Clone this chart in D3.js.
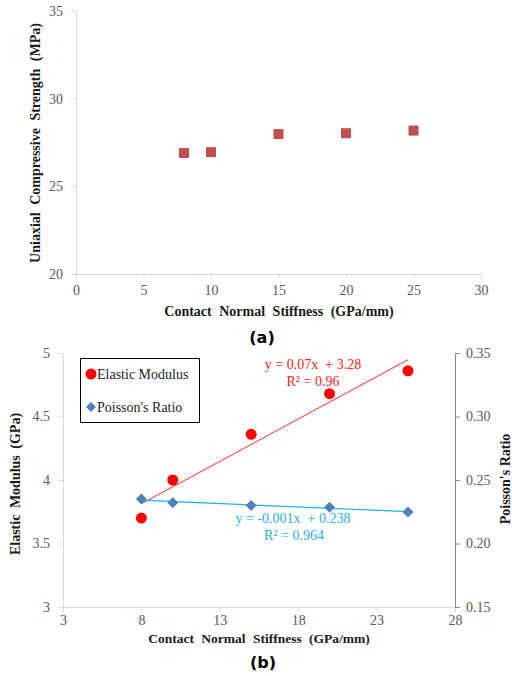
<!DOCTYPE html>
<html>
<head>
<meta charset="utf-8">
<script src="https://cdn.jsdelivr.net/npm/d3@7"></script>
<style>
  body { margin: 0; background: #fff; }
  svg { display: block; }
</style>
</head>
<body>
<svg id="chart" width="512" height="676"></svg>
<script>
// chart (a) data
var stiffA = [8, 10, 15, 20, 25];
var ucs = [26.9, 26.95, 27.98, 28.03, 28.18];
var xTicksA = [0, 5, 10, 15, 20, 25, 30];
var yTicksA = [20, 25, 30, 35];

// chart (b) data
var stiffB = [8, 10, 15, 20, 25];
var modulus = [3.70, 4.00, 4.36, 4.68, 4.86];
var poisson = [0.235, 0.232, 0.230, 0.2285, 0.2248];
var xTicksB = [3, 8, 13, 18, 23, 28];
var yTicksB = [3, 3.5, 4, 4.5, 5];
var yTicksR = [0.15, 0.20, 0.25, 0.30, 0.35];

var serif = "'Liberation Serif', 'Times New Roman', serif";
var tickCol = "#595959";
var svg = d3.select("#chart");

function linfit(xs, ys) {
  var mx = d3.mean(xs), my = d3.mean(ys);
  var sxy = d3.sum(xs, function(x, i){ return (x - mx) * (ys[i] - my); });
  var sxx = d3.sum(xs, function(x){ return (x - mx) * (x - mx); });
  var b = sxy / sxx;
  return {b: b, a: my - b * mx};
}

function styleAxis(g, col) {
  g.attr("font-family", null);
  g.select(".domain").attr("stroke", col);
  g.selectAll(".tick line").attr("stroke", col);
  g.selectAll(".tick text")
    .attr("fill", tickCol)
    .style("font-family", serif)
    .style("font-size", "14px");
}

// ---------- (a) ----------
var xA = d3.scaleLinear().domain([0, 30]).range([76, 481]);
var yA = d3.scaleLinear().domain([20, 35]).range([274, 11]);

var gxA = svg.append("g")
  .attr("transform", "translate(0," + yA(20) + ")")
  .call(d3.axisBottom(xA).tickValues(xTicksA).tickSize(5).tickSizeOuter(0).tickPadding(6));
styleAxis(gxA, "#d9d9d9");

var gyA = svg.append("g")
  .attr("transform", "translate(" + xA(0) + ",0)")
  .call(d3.axisLeft(yA).tickValues(yTicksA).tickSize(5).tickSizeOuter(0).tickPadding(8));
styleAxis(gyA, "#d9d9d9");

svg.append("g").selectAll("rect").data(stiffA)
  .enter().append("rect")
  .attr("x", function(d){ return xA(d) - 5; })
  .attr("y", function(d, i){ return yA(ucs[i]) - 5; })
  .attr("width", 10)
  .attr("height", 10)
  .attr("fill", "#c0504d");

svg.append("text")
  .attr("x", 279).attr("y", 316)
  .attr("text-anchor", "middle")
  .style("font-family", serif).style("font-size", "14px").style("font-weight", "bold")
  .attr("fill", "#1a1a1a")
  .attr("word-spacing", "4px")
  .text("Contact Normal Stiffness (GPa/mm)");

svg.append("text")
  .attr("transform", "translate(40,143) rotate(-90)")
  .attr("text-anchor", "middle")
  .style("font-family", serif).style("font-size", "14px").style("font-weight", "bold")
  .attr("fill", "#1a1a1a")
  .attr("word-spacing", "4px")
  .text("Uniaxial Compressive Strength (MPa)");

svg.append("text")
  .attr("x", 262).attr("y", 343)
  .attr("text-anchor", "middle")
  .style("font-family", "'DejaVu Sans', sans-serif").style("font-size", "16px").style("font-weight", "bold")
  .attr("fill", "#000")
  .text("(a)");

// ---------- (b) ----------
var xB = d3.scaleLinear().domain([3, 28]).range([63, 455]);
var yB = d3.scaleLinear().domain([3, 5]).range([607, 353]);
var yR = d3.scaleLinear().domain([0.15, 0.35]).range([607, 353]);

var gxB = svg.append("g")
  .attr("transform", "translate(0," + yB(3) + ")")
  .call(d3.axisBottom(xB).tickValues(xTicksB).tickSize(5).tickSizeOuter(0).tickPadding(3));
styleAxis(gxB, "#d9d9d9");

var gyB = svg.append("g")
  .attr("transform", "translate(" + xB(3) + ",0)")
  .call(d3.axisLeft(yB).tickValues(yTicksB).tickFormat(d3.format("")).tickSize(5).tickSizeOuter(0).tickPadding(8));
styleAxis(gyB, "#d9d9d9");

var gyR = svg.append("g")
  .attr("transform", "translate(" + xB(28) + ",0)")
  .call(d3.axisRight(yR).tickValues(yTicksR).tickFormat(d3.format(".2f")).tickSize(5).tickSizeOuter(0).tickPadding(6));
styleAxis(gyR, "#868686");

// trendlines
var fitE = linfit(stiffB, modulus);
var fitP = linfit(stiffB, poisson);

svg.append("line")
  .attr("x1", xB(8)).attr("y1", yB(fitE.a + fitE.b * 8))
  .attr("x2", xB(25)).attr("y2", yB(fitE.a + fitE.b * 25))
  .attr("stroke", "#ff5050").attr("stroke-width", 1.2);

svg.append("line")
  .attr("x1", xB(8)).attr("y1", yR(fitP.a + fitP.b * 8))
  .attr("x2", xB(25)).attr("y2", yR(fitP.a + fitP.b * 25))
  .attr("stroke", "#1fb0ec").attr("stroke-width", 1.2);

// points
svg.append("g").selectAll("path").data(stiffB)
  .enter().append("path")
  .attr("transform", function(d, i){ return "translate(" + xB(d) + "," + yR(poisson[i]) + ")"; })
  .attr("d", "M0,-5.5L5.5,0L0,5.5L-5.5,0Z")
  .attr("fill", "#4f81bd");

svg.append("g").selectAll("circle").data(stiffB)
  .enter().append("circle")
  .attr("cx", function(d){ return xB(d); })
  .attr("cy", function(d, i){ return yB(modulus[i]); })
  .attr("r", 5.5)
  .attr("fill", "#ff0000");

// equations
var eqE = svg.append("g").attr("fill", "#ff2020")
  .style("font-family", serif).style("font-size", "14px");
eqE.append("text").attr("x", 313).attr("y", 369).attr("text-anchor", "middle")
  .attr("xml:space", "preserve").text("y = 0.07x  + 3.28");
eqE.append("text").attr("x", 313).attr("y", 386).attr("text-anchor", "middle")
  .text("R² = 0.96");

var eqP = svg.append("g").attr("fill", "#1fb0ec")
  .style("font-family", serif).style("font-size", "14px");
eqP.append("text").attr("x", 293).attr("y", 523).attr("text-anchor", "middle")
  .attr("xml:space", "preserve").text("y = -0.001x  + 0.238");
eqP.append("text").attr("x", 294).attr("y", 540).attr("text-anchor", "middle")
  .text("R² = 0.964");

// legend
var leg = svg.append("g");
leg.append("rect")
  .attr("x", 80.5).attr("y", 358.5).attr("width", 119).attr("height", 64)
  .attr("fill", "#fff").attr("stroke", "#000").attr("stroke-width", 1);
leg.append("circle").attr("cx", 91).attr("cy", 374).attr("r", 5.5).attr("fill", "#ff0000");
leg.append("text").attr("x", 97).attr("y", 379)
  .style("font-family", serif).style("font-size", "14px").attr("fill", "#262626")
  .text("Elastic Modulus");
leg.append("path").attr("transform", "translate(91,407)")
  .attr("d", "M0,-5L5,0L0,5L-5,0Z").attr("fill", "#4f81bd");
leg.append("text").attr("x", 97).attr("y", 412)
  .style("font-family", serif).style("font-size", "14px").attr("fill", "#262626")
  .text("Poisson's Ratio");

// axis titles
svg.append("text")
  .attr("x", 259).attr("y", 643)
  .attr("text-anchor", "middle")
  .style("font-family", serif).style("font-size", "13.5px").style("font-weight", "bold")
  .attr("fill", "#1a1a1a")
  .attr("word-spacing", "4px")
  .text("Contact Normal Stiffness (GPa/mm)");

svg.append("text")
  .attr("transform", "translate(20,484) rotate(-90)")
  .attr("text-anchor", "middle")
  .style("font-family", serif).style("font-size", "14px").style("font-weight", "bold")
  .attr("fill", "#1a1a1a")
  .attr("word-spacing", "3px")
  .text("Elastic Modulus (GPa)");

svg.append("text")
  .attr("transform", "translate(510,479) rotate(-90)")
  .attr("text-anchor", "middle")
  .style("font-family", serif).style("font-size", "14px").style("font-weight", "bold")
  .attr("fill", "#1a1a1a")
  .text("Poisson's Ratio");

svg.append("text")
  .attr("x", 263).attr("y", 668)
  .attr("text-anchor", "middle")
  .style("font-family", "'DejaVu Sans', sans-serif").style("font-size", "16px").style("font-weight", "bold")
  .attr("fill", "#000")
  .text("(b)");
</script>
</body>
</html>
